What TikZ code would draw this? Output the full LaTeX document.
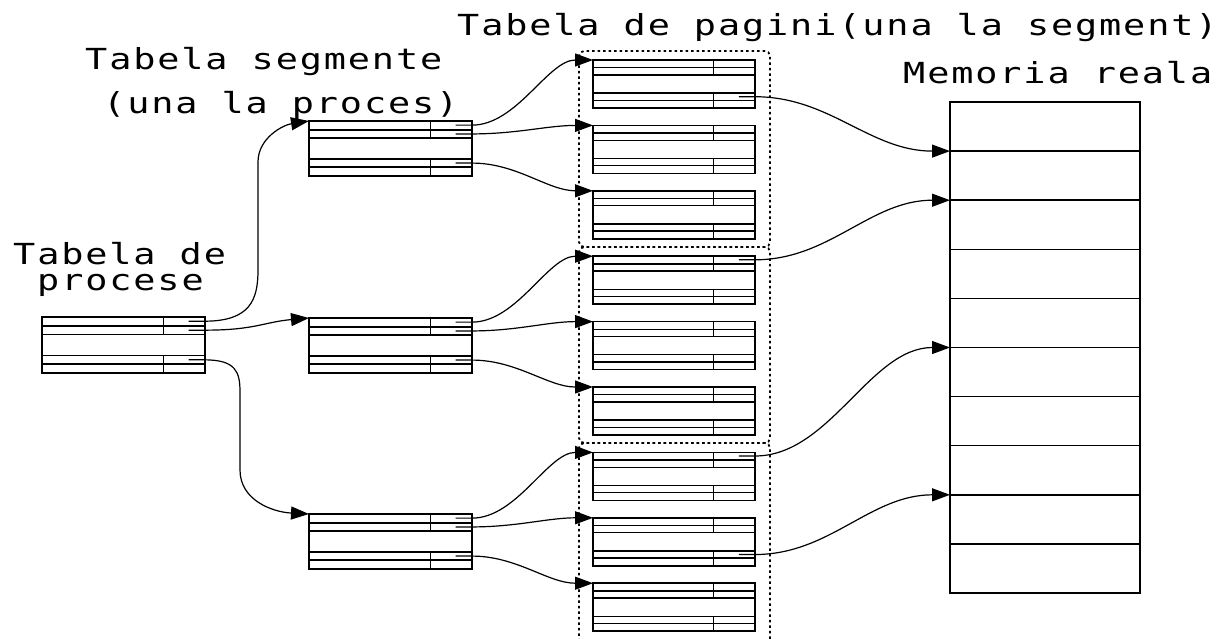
\documentclass[tikz,border=0pt]{standalone}
\usepackage{fontspec}
\newfontfamily\lblfont{DejaVu Sans Mono}[FakeStretch=1.27,LetterSpace=6.5]
\usetikzlibrary{arrows.meta}
\tikzset{
  tbl/.style={draw, line width=1.6pt, rectangle, inner sep=0pt, outer sep=0pt, anchor=north west},
  tline/.style={line width=1.5pt},
  conn/.style={line width=1.2pt, -{Triangle[length=18pt,width=13pt]}},
  grp/.style={draw, line width=1.8pt, dash pattern=on 2.5pt off 3pt, rounded corners=5pt,
              inner sep=0pt, outer sep=0pt, anchor=north west, rectangle},
  lbl/.style={font=\lblfont\fontsize{29}{30}\selectfont, anchor=base west, inner sep=0pt},
}
% name, x, y (top), width, height
\newcommand\tablebox[5]{%
  \node[tbl, minimum width=#4pt, minimum height=#5pt] (#1) at (#2,#3) {};
  \foreach \f in {0.16,0.31,0.69,0.84}{
    \draw[tline] ([yshift={-\f*#5pt}]#1.north west) -- ([yshift={-\f*#5pt}]#1.north east);}
  \draw[tline] ([xshift={0.745*#4pt}]#1.north west) -- ([xshift={0.745*#4pt},yshift={-0.31*#5pt}]#1.north west);
  \draw[tline] ([xshift={0.745*#4pt},yshift={-0.69*#5pt}]#1.north west) -- ([xshift={0.745*#4pt}]#1.south west);
  \coordinate (#1-a) at ([xshift={0.9*#4pt},yshift={-0.075*#5pt}]#1.north west);
  \coordinate (#1-b) at ([xshift={0.9*#4pt},yshift={-0.235*#5pt}]#1.north west);
  \coordinate (#1-c) at ([xshift={0.9*#4pt},yshift={-0.765*#5pt}]#1.north west);
  \coordinate (#1-d) at ([xshift={0.9*#4pt},yshift={-0.92*#5pt}]#1.north west);
}
\begin{document}
\begin{tikzpicture}[x=1pt,y=-1pt]
\useasboundingbox[fill=white] (0,0) rectangle (1229,638);
\begin{scope}
\clip (0,0) rectangle (1229,638);
% dotted groups of page tables
\node[grp, minimum width=191pt, minimum height=196pt] (g1) at (579,51) {};
\node[grp, minimum width=191pt, minimum height=196pt] (g2) at (579,247) {};
\node[grp, minimum width=191pt, minimum height=210pt] (g3) at (579,443) {};
\end{scope}

% labels
\node[lbl] (t1) at (457,35) {Tabela de pagini(una la segment)};
\node[lbl] (t2) at (903,83) {Memoria reala};
\node[lbl] (t3) at (85,69) {Tabela segmente};
\node[lbl] (t4) at (103,113) {(una la proces)};
\node[lbl] (t5) at (13,264) {Tabela de};
\node[lbl] (t6) at (37,290) {procese};

% tables
\tablebox{pt}{42}{317}{163}{56}
\tablebox{sg1}{309}{121}{163}{55}
\tablebox{sg2}{309}{318}{163}{55}
\tablebox{sg3}{309}{514}{163}{55}
\foreach \i in {1,...,9}{
  \pgfmathsetmacro\t{60+65.4*(\i-1)}
  \tablebox{pg\i}{593}{\t}{162}{48}
}

% real memory
\node[tbl, minimum width=190pt, minimum height=491pt] (mem) at (950,102) {};
\foreach \i in {1,...,9}{
  \draw[tline] ([yshift={-\i*49.1pt}]mem.north west) -- ([yshift={-\i*49.1pt}]mem.north east);
  \coordinate (mem-\i) at ([yshift={-\i*49.1pt}]mem.north west);
}

% process table -> segment tables
\draw[conn] (pt-a) -- (pt-a -| pt.east) .. controls (250,321) and (258,300) .. (258,270)
   -- (258,162) .. controls (258,138) and (283,125) .. (sg1.north west);
\draw[conn] (pt-b) -- (pt-b -| pt.east) .. controls +(50,0) and +(-45,4) .. (sg2.north west);
\draw[conn] (pt-c) -- (pt-c -| pt.east) .. controls (236,360) and (240,372) .. (240,392)
   -- (240,470) .. controls (240,500) and (272,512) .. (sg3.north west);

% segment tables -> page tables
\foreach \s/\p/\q/\r in {sg1/pg1/pg2/pg3, sg2/pg4/pg5/pg6, sg3/pg7/pg8/pg9}{
  \draw[conn] (\s-a) -- (\s-a -| \s.east) .. controls +(45,0) and +(-45,0) .. (\p.north west);
  \draw[conn] (\s-b) -- (\s-b -| \s.east) .. controls +(45,0) and +(-45,0) .. (\q.north west);
  \draw[conn] (\s-c) -- (\s-c -| \s.east) .. controls +(45,0) and +(-45,0) .. (\r.north west);
}

% page tables -> real memory
\draw[conn] (pg1-c) -- (pg1-c -| pg1.east) .. controls +(75,0) and +(-80,0) .. (mem-1);
\draw[conn] (pg4-a) -- (pg4-a -| pg4.east) .. controls +(75,0) and +(-80,0) .. (mem-2);
\draw[conn] (pg7-a) -- (pg7-a -| pg7.east) .. controls +(75,0) and +(-80,0) .. (mem-5);
\draw[conn] (pg8-c) -- (pg8-c -| pg8.east) .. controls +(75,0) and +(-80,0) .. (mem-8);
\end{tikzpicture}
\end{document}
